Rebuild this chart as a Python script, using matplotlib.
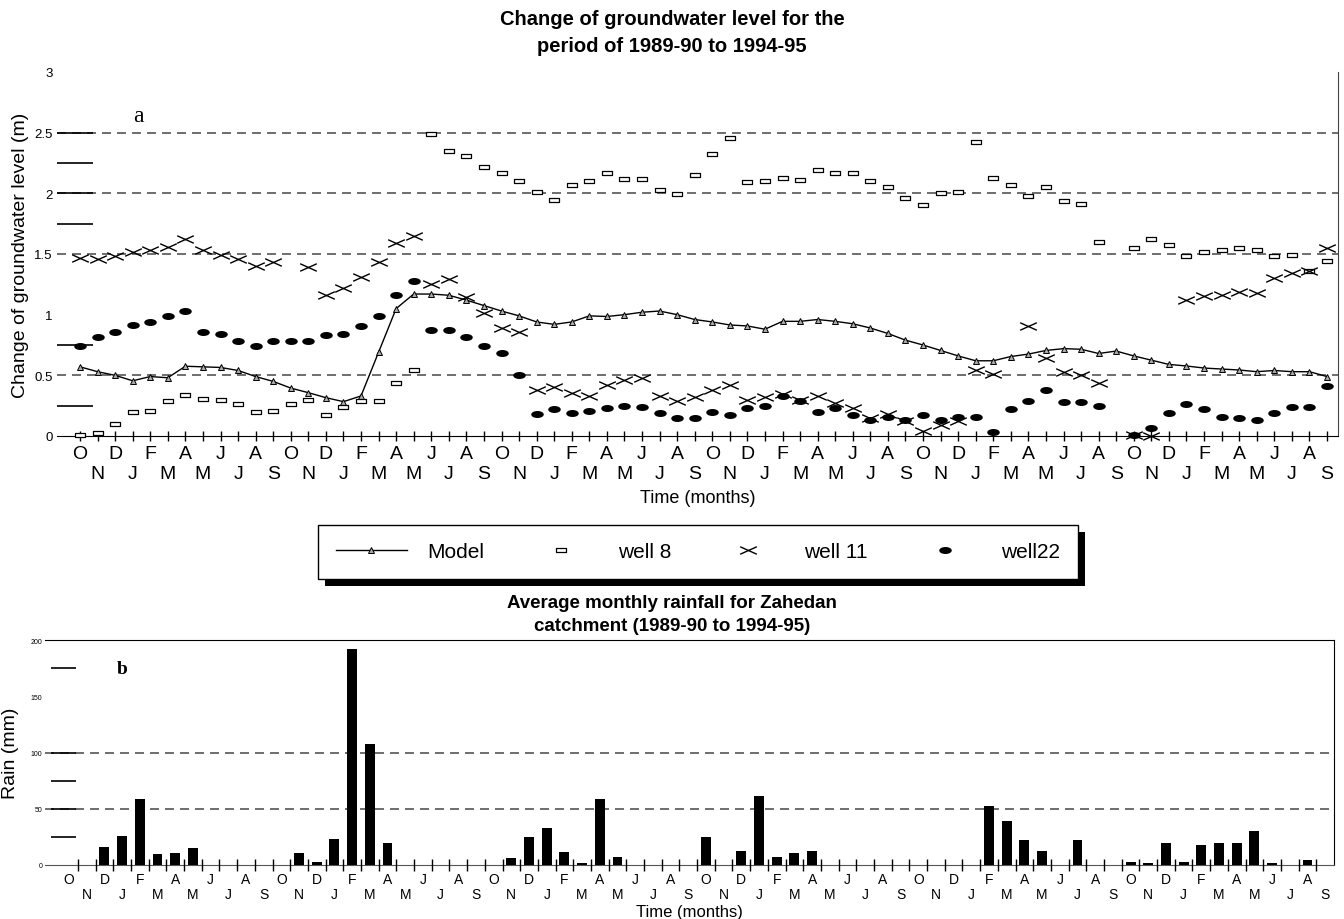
import numpy as np
import matplotlib
matplotlib.use('Agg')
import matplotlib.pyplot as plt
from matplotlib.path import Path
from matplotlib.patches import Rectangle

plt.rcParams['font.family'] = ['Liberation Sans', 'DejaVu Sans']

nan = np.nan
month_letters = ['O', 'N', 'D', 'J', 'F', 'M', 'A', 'M', 'J', 'J', 'A', 'S'] * 6

# groundwater level change (m), Oct 1989 .. Sep 1995
model = [0.57, 0.53, 0.50, 0.455, 0.49, 0.48, 0.575, 0.57, 0.565, 0.54,
         0.49, 0.45, 0.395, 0.357, 0.316, 0.283, 0.33, 0.69, 1.05, 1.17,
         1.17, 1.16, 1.12, 1.075, 1.03, 0.99, 0.94, 0.92, 0.94, 0.99,
         0.985, 1.0, 1.02, 1.03, 1.0, 0.96, 0.94, 0.915, 0.907, 0.88,
         0.945, 0.945, 0.96, 0.945, 0.925, 0.89, 0.845, 0.79, 0.75, 0.705,
         0.66, 0.62, 0.62, 0.655, 0.675, 0.705, 0.72, 0.715, 0.68, 0.70,
         0.66, 0.625, 0.59, 0.577, 0.56, 0.552, 0.544, 0.53, 0.54, 0.53,
         0.53, 0.49]

well8 = [0.01, 0.025, 0.10, 0.20, 0.205, 0.29, 0.34, 0.305, 0.30, 0.26,
         0.20, 0.205, 0.26, 0.30, 0.17, 0.235, 0.29, 0.29, 0.44, 0.545,
         2.49, 2.35, 2.305, 2.22, 2.17, 2.105, 2.01, 1.945, 2.07, 2.105,
         2.165, 2.12, 2.115, 2.03, 1.995, 2.15, 2.325, 2.455, 2.095, 2.105,
         2.13, 2.11, 2.19, 2.165, 2.17, 2.105, 2.05, 1.965, 1.90, 2.00,
         2.01, 2.42, 2.125, 2.07, 1.975, 2.055, 1.935, 1.91, 1.595, nan,
         1.55, 1.625, 1.575, 1.48, 1.52, 1.53, 1.55, 1.535, 1.485, 1.49,
         1.36, 1.445]

well11 = [1.465, 1.46, 1.48, 1.52, 1.53, 1.56, 1.62, 1.53, 1.49, 1.46,
          1.40, 1.43, nan, 1.39, 1.16, 1.22, 1.31, 1.43, 1.59, 1.65,
          1.25, 1.29, 1.145, 1.01, 0.89, 0.86, 0.377, 0.40, 0.355, 0.33,
          0.42, 0.46, 0.48, 0.33, 0.29, 0.32, 0.38, 0.42, 0.295, 0.32,
          0.35, 0.30, 0.33, 0.27, 0.23, 0.146, 0.18, 0.12, 0.045, 0.09,
          0.124, 0.54, 0.51, nan, 0.91, 0.64, 0.525, 0.50, 0.44, nan,
          0.01, 0.0, nan, 1.12, 1.15, 1.16, 1.19, 1.18, 1.305, 1.34,
          1.36, 1.55]

well22 = [0.745, 0.82, 0.86, 0.915, 0.94, 0.985, 1.03, 0.86, 0.84, 0.78,
          0.745, 0.78, 0.78, 0.78, 0.83, 0.84, 0.905, 0.99, 1.16, 1.275,
          0.875, 0.875, 0.815, 0.745, 0.68, 0.50, 0.18, 0.22, 0.19, 0.21,
          0.23, 0.25, 0.24, 0.19, 0.15, 0.15, 0.20, 0.17, 0.23, 0.25,
          0.33, 0.285, 0.20, 0.23, 0.17, 0.13, 0.16, 0.135, 0.17, 0.13,
          0.155, 0.16, 0.03, 0.22, 0.29, 0.38, 0.28, 0.28, 0.25, nan,
          0.01, 0.063, 0.19, 0.26, 0.22, 0.16, 0.15, 0.13, 0.19, 0.24,
          0.24, 0.41]

# average monthly rainfall (mm)
rain = [0, 0, 16, 25.5, 58.7, 9.5, 11, 14.8, 0, 0,
        0, 0, 0, 10.4, 2.4, 22.9, 192, 108, 19.9, 0,
        0, 0, 0, 0, 0, 6.5, 25.2, 33.2, 11.3, 1.5,
        58.5, 6.8, 0, 0, 0, 0, 25.2, 0, 12.5, 61.4,
        7.5, 11, 12.2, 0, 0, 0, 0, 0, 0, 0,
        0, 0, 52.5, 39.2, 22.6, 12.5, 0, 22.6, 0, 0,
        2.4, 1.5, 19.3, 2.4, 18.1, 19.3, 19.3, 30.3, 1.5, 0,
        4.2, 0]

gw_grid = [0.5, 1.5, 2.0, 2.5]
gw_stubs = [0.25, 0.75, 1.75, 2.0, 2.25, 2.5]
rain_grid = [50, 100]
rain_stubs = [25, 50, 75, 100, 175]

# custom marker shapes
wide_x = Path([(-1, -0.45), (1, 0.45), (-1, 0.45), (1, -0.45)],
              [Path.MOVETO, Path.LINETO, Path.MOVETO, Path.LINETO])
circ = Path.unit_circle()
ellipse = Path(circ.vertices * np.array([1.0, 0.5]), circ.codes)
small_rect = Path([(-1, -0.45), (1, -0.45), (1, 0.45), (-1, 0.45), (-1, -0.45)],
                  [Path.MOVETO, Path.LINETO, Path.LINETO, Path.LINETO, Path.CLOSEPOLY])

x = np.arange(len(model))
fig = plt.figure(figsize=(13.44, 9.2), dpi=100)

# ---- panel a ----
ax = fig.add_axes([57 / 1344, 1 - 437 / 920, 1281 / 1344, 364 / 920])
ax.set_xlim(-1.31, 71.63)
ax.set_ylim(0, 3)
for s in ['left', 'top']:
    ax.spines[s].set_visible(False)
ax.spines['right'].set_color('#444444')
ax.spines['bottom'].set_color('black')

ax.hlines(gw_grid, -1.31, 71.63, colors='#555555', linewidth=1.2, linestyles=(0, (5.4, 3.6)), zorder=1)
ax.hlines(gw_stubs, 0.0, 0.028, transform=ax.get_yaxis_transform(), colors='black', linewidth=1.2, zorder=1)

l_model, = ax.plot(x, model, color='black', linewidth=1.0, marker='^', markersize=5,
                   markerfacecolor='#aaaaaa', markeredgecolor='black', markeredgewidth=0.7,
                   label='Model', zorder=3)
l_w8, = ax.plot(x, well8, linestyle='none', marker=small_rect, markersize=7,
                markerfacecolor='white', markeredgecolor='black', markeredgewidth=0.9,
                label='well 8', zorder=4, clip_on=False)
l_w11, = ax.plot(x, well11, linestyle='none', marker=wide_x, markersize=12,
                 markeredgecolor='black', markeredgewidth=1.0, label='well 11', zorder=4, clip_on=False)
l_w22, = ax.plot(x, well22, linestyle='none', marker=ellipse, markersize=8,
                 markerfacecolor='black', markeredgecolor='black', label='well22', zorder=4, clip_on=False)

ax.set_xticks(x[0::2])
ax.set_xticklabels(month_letters[0::2])
ax.set_xticks(x[1::2], minor=True)
ax.set_xticklabels(month_letters[1::2], minor=True)
ax.tick_params(axis='x', which='both', direction='inout', length=7, width=1, labelsize=14)
ax.tick_params(axis='x', which='major', pad=3)
ax.tick_params(axis='x', which='minor', pad=17.5)
ax.set_yticks([0, 0.5, 1, 1.5, 2, 2.5, 3])
ax.set_yticklabels(['0', '0.5', '1', '1.5', '2', '2.5', '3'])
ax.tick_params(axis='y', length=0, labelsize=9.5, pad=3)
ax.set_xlabel('Time (months)', fontsize=13, labelpad=5)
ax.set_ylabel('Change of groundwater level (m)', fontsize=14, labelpad=4)
ax.text(3.0, 2.6, 'a', family='Liberation Serif', fontsize=17)

fig.text(0.5, 1 - 10 / 920, 'Change of groundwater level for the\nperiod of 1989-90 to 1994-95',
         ha='center', va='top', fontsize=14.5, fontweight='bold', linespacing=1.5)

leg = fig.legend(handles=[l_model, l_w8, l_w11, l_w22], ncol=4, loc='center',
                 bbox_to_anchor=(698 / 1344, 1 - 553 / 920), fontsize=15,
                 handlelength=3.4, handletextpad=1.0, columnspacing=2.0, borderpad=0.85,
                 fancybox=False, edgecolor='black', framealpha=1)
leg.get_frame().set_linewidth(1.0)

# ---- panel b ----
bx = fig.add_axes([45 / 1344, 1 - 866 / 920, 1289 / 1344, 225 / 920])
bx.set_xlim(-1.36, 71.5)
bx.set_ylim(0, 200)
bx.spines['left'].set_visible(False)
bx.spines['bottom'].set_color('#555555')
bx.hlines(rain_grid, -1.36, 71.5, colors='#555555', linewidth=1.2, linestyles=(0, (5.4, 3.6)), zorder=1)
bx.hlines(rain_stubs, 0.005, 0.024, transform=bx.get_yaxis_transform(), colors='black', linewidth=1.2, zorder=1)
bx.bar(x, rain, width=0.56, color='black', zorder=3)
bx.vlines(x[:-1] + 0.5, -5, 5, colors='black', linewidth=1.0, clip_on=False, zorder=3)

bx.set_xticks(x[0::2])
bx.set_xticklabels(month_letters[0::2])
bx.set_xticks(x[1::2], minor=True)
bx.set_xticklabels(month_letters[1::2], minor=True)
bx.tick_params(axis='x', which='both', length=0, labelsize=10)
bx.tick_params(axis='x', which='major', pad=5)
bx.tick_params(axis='x', which='minor', pad=16)
bx.set_yticks([0, 50, 100, 150, 200])
bx.tick_params(axis='y', length=0, labelsize=5, pad=2)
bx.set_xlabel('Time (months)', fontsize=12, labelpad=2)
bx.set_ylabel('Rain (mm)', fontsize=14, labelpad=8)
bx.text(2.7, 175, 'b', family='Liberation Serif', fontweight='bold', fontsize=14, va='center')

fig.text(0.5, 1 - 595 / 920, 'Average monthly rainfall for Zahedan\ncatchment (1989-90 to 1994-95)',
         ha='center', va='top', fontsize=13.5, fontweight='bold', linespacing=1.5)

# black drop shadow behind the legend box
fig.canvas.draw()
bb = leg.get_window_extent()
shadow = Rectangle((bb.x0 + 7, bb.y0 - 7), bb.width, bb.height, transform=None,
                   facecolor='black', edgecolor='none', zorder=4)
fig.add_artist(shadow)
leg.set_zorder(5)

fig.savefig('out.png', dpi=100)
